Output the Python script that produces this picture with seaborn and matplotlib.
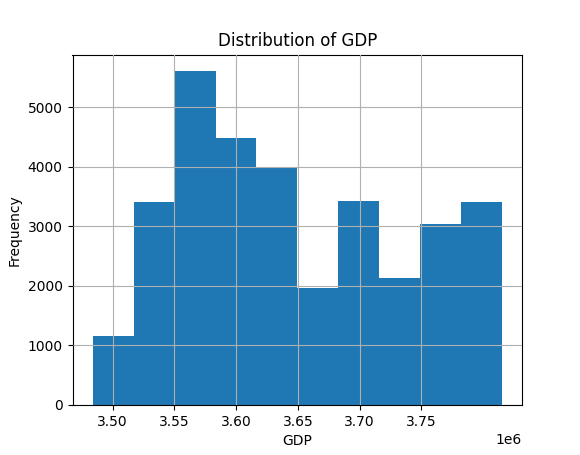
import numpy as np
import pandas as pd
import matplotlib
matplotlib.use("Agg")
import matplotlib.pyplot as plt
import seaborn as sns

# bin edges of the GDP histogram and the counts per bin
bin_edges = np.linspace(3.484e6, 3.815e6, 11)
counts = [1150, 3400, 5600, 4480, 3980, 1970, 3430, 2130, 3030, 3400]
centers = (bin_edges[:-1] + bin_edges[1:]) / 2

datos = pd.DataFrame({"GDP": centers, "n": counts})

fig, ax = plt.subplots(figsize=(5.8, 4.55), dpi=100)
sns.histplot(data=datos, x="GDP", weights="n", bins=list(bin_edges), color="#1f77b4",
             alpha=1, edgecolor="none", linewidth=0, ax=ax)
ax.grid(True)
ax.set_axisbelow(False)
ax.set_xticks([3.50e6, 3.55e6, 3.60e6, 3.65e6, 3.70e6, 3.75e6])
ax.set_title("Distribution of GDP")
ax.set_xlabel("GDP")
ax.set_ylabel("Frequency")
plt.savefig("out.png")
